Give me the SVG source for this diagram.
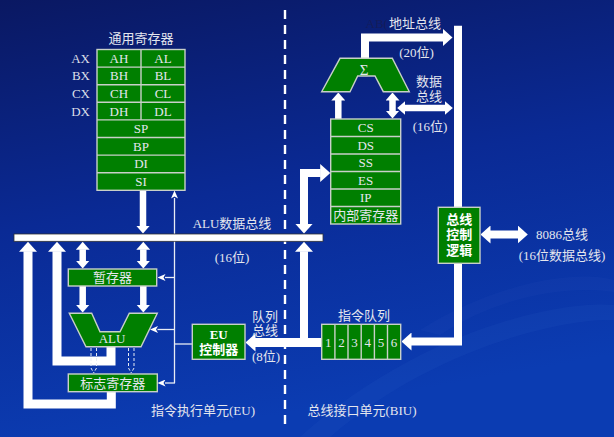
<svg xmlns="http://www.w3.org/2000/svg" width="614" height="437" viewBox="0 0 614 437">
<defs>
<linearGradient id="bg" x1="0" y1="0" x2="0.25" y2="1">
<stop offset="0" stop-color="#0a1862"/>
<stop offset="0.5" stop-color="#0a2a95"/>
<stop offset="1" stop-color="#0b3cb2"/>
</linearGradient>
<marker id="big" markerUnits="userSpaceOnUse" viewBox="0 0 10 18" markerWidth="10" markerHeight="18" refX="0.5" refY="9" orient="auto-start-reverse"><path d="M0,0 L10,9 L0,18 z" fill="#fff"/></marker>
<marker id="mid" markerUnits="userSpaceOnUse" viewBox="0 0 8 14" markerWidth="8" markerHeight="14" refX="0.5" refY="7" orient="auto-start-reverse"><path d="M0,0 L8,7 L0,14 z" fill="#fff"/></marker>
<marker id="thin" markerUnits="userSpaceOnUse" viewBox="0 0 8 7" markerWidth="8" markerHeight="7" refX="0.5" refY="3.5" orient="auto-start-reverse"><path d="M0,0 L8,3.5 L0,7 L2,3.5 z" fill="#fff"/></marker>
<style>
.g{fill:#007f00;stroke:#c8d0c8;stroke-width:1.4}
.cell{fill:none;stroke:#c8d0c8;stroke-width:1.4}
.t{font-family:"Liberation Serif","Noto Sans CJK SC",serif;font-size:13px;fill:#e4e6ee;text-anchor:middle}
.tl{font-family:"Liberation Serif","Noto Sans CJK SC",serif;font-size:13px;fill:#dcdfe8;text-anchor:end}
.b{font-family:"Liberation Serif","Noto Sans CJK SC",sans-serif;font-size:13px;fill:#ffffff;font-weight:bold;text-anchor:middle}
.w9{fill:none;stroke:#fff;stroke-width:9;stroke-linejoin:miter}
.w8{fill:none;stroke:#fff;stroke-width:8;stroke-linejoin:miter}
.w6{fill:none;stroke:#fff;stroke-width:6.5}
.th{fill:none;stroke:#e8ecf4;stroke-width:1.3}
.ds{fill:none;stroke:#e8ecf4;stroke-width:1;stroke-dasharray:3 2}
</style>
</defs>
<rect width="614" height="437" fill="url(#bg)"/>
<path d="M300,437 C420,330 560,300 614,305 L614,320 C560,318 430,350 330,437 z" fill="#3a6ad0" opacity="0.1"/>
<path d="M420,330 C500,280 580,270 614,280 L614,292 C570,285 500,295 440,335 z" fill="#3a6ad0" opacity="0.08"/>

<line x1="285" y1="10" x2="285" y2="424" stroke="#fff" stroke-width="2.4" stroke-dasharray="9 6"/>

<g id="connectors">
<path class="w9" d="M111,346 L111,361 L57,361 L57,251.3" marker-end="url(#big)"/>
<path class="w9" d="M111.3,391 L111.3,404 L28,404 L28,251.3" marker-end="url(#big)"/>
<line class="w6" x1="143" y1="190" x2="143" y2="226" marker-end="url(#mid)"/>
<line class="w6" x1="82.7" y1="249.3" x2="82.7" y2="261" marker-start="url(#mid)" marker-end="url(#mid)"/>
<line class="w6" x1="143.3" y1="249.3" x2="143.3" y2="261" marker-start="url(#mid)" marker-end="url(#mid)"/>
<line class="w6" x1="82.7" y1="286" x2="82.7" y2="305" marker-end="url(#mid)"/>
<line class="w6" x1="143.3" y1="286" x2="143.3" y2="305" marker-end="url(#mid)"/>
<path class="th" d="M174.5,383 L174.5,198" marker-end="url(#thin)"/>
<line class="th" x1="174.5" y1="277.5" x2="165" y2="277.5" marker-end="url(#thin)"/>
<line class="th" x1="174.5" y1="329.5" x2="157.5" y2="329.5" marker-end="url(#thin)"/>
<line class="th" x1="175" y1="383" x2="165" y2="383" marker-end="url(#thin)"/>
<line class="th" x1="174.5" y1="344" x2="192.3" y2="344"/>
<path class="ds" d="M91,348 L91,368 L93.7,373 M96.5,348 L96.5,368 L93.7,373"/>
<path class="ds" d="M128.5,348 L128.5,368 L131.2,373 M134,348 L134,368 L131.2,373"/>
<line class="w9" x1="321.7" y1="342.5" x2="255" y2="342.5" marker-end="url(#big)"/>
<line class="w8" x1="304" y1="346" x2="304" y2="251.3" marker-end="url(#big)"/>
<path class="w8" d="M304,224 L304,173 L320.7,173" marker-start="url(#big)" marker-end="url(#big)"/>
<path class="w8" d="M458,25.7 L458,341.5 L411,341.5" marker-end="url(#big)"/>
<path class="w8" d="M365,59 L365,37.5 L443,37.5" marker-end="url(#big)"/>
<line class="w6" x1="404.7" y1="108" x2="445.3" y2="108" marker-start="url(#mid)" marker-end="url(#mid)"/>
<line class="w6" x1="338.3" y1="119" x2="338.3" y2="100" marker-end="url(#mid)"/>
<line class="w6" x1="392.5" y1="100" x2="392.5" y2="111" marker-start="url(#mid)" marker-end="url(#mid)"/>
<line class="w8" x1="490" y1="234.5" x2="518.3" y2="234.5" marker-start="url(#big)" marker-end="url(#big)"/>
</g>

<g id="alu-bus">
<rect x="14" y="234" width="309" height="7.3" fill="#fff" stroke="#333" stroke-width="0.8"/>
<text class="t" x="232" y="228">ALU数据总线</text>
<text class="t" x="232" y="262">(16位)</text>
</g>

<g id="general-registers">
<text class="t" x="141" y="43">通用寄存器</text>
<rect class="g" x="97" y="49.5" width="88" height="140.8"/>
<path class="cell" d="M97,67.1 H185 M97,84.7 H185 M97,102.3 H185 M97,119.9 H185 M97,137.5 H185 M97,155.1 H185 M97,172.7 H185 M141,49.5 V119.9"/>
<text class="tl" x="90" y="62.8">AX</text>
<text class="tl" x="90" y="80.4">BX</text>
<text class="tl" x="90" y="98">CX</text>
<text class="tl" x="90" y="115.6">DX</text>
<text class="t" x="119" y="62.8">AH</text><text class="t" x="163" y="62.8">AL</text>
<text class="t" x="119" y="80.4">BH</text><text class="t" x="163" y="80.4">BL</text>
<text class="t" x="119" y="98">CH</text><text class="t" x="163" y="98">CL</text>
<text class="t" x="119" y="115.6">DH</text><text class="t" x="163" y="115.6">DL</text>
<text class="t" x="141" y="133.2">SP</text>
<text class="t" x="141" y="150.8">BP</text>
<text class="t" x="141" y="168.4">DI</text>
<text class="t" x="141" y="186">SI</text>
</g>

<g id="temp-register">
<rect class="g" x="68.3" y="269" width="88.4" height="17"/>
<text class="t" x="112.5" y="282">暂存器</text>
</g>

<g id="alu">
<polygon class="g" points="69.3,313.3 91.7,313.3 100,331.7 120,331.7 129.3,313.3 157.3,313.3 141,346.7 86,346.7"/>
<text class="t" x="112" y="343">ALU</text>
</g>

<g id="flag-register">
<rect class="g" x="68.3" y="374" width="89" height="17.7"/>
<text class="t" x="112.8" y="387.8">标志寄存器</text>
</g>

<g id="eu-control">
<rect class="g" x="192.3" y="324.3" width="52.7" height="35"/>
<text class="b" x="218.7" y="339">EU</text>
<text class="b" x="218.7" y="354">控制器</text>
</g>

<g id="queue-labels">
<text class="t" x="265" y="321">队列</text>
<text class="t" x="265" y="335">总线</text>
<text class="t" x="266" y="361">(8位)</text>
</g>

<g id="adder">
<polygon class="g" points="340,58.3 392.3,58.3 409.3,91.7 383.3,91.7 375,76 357.7,76 350,91.7 321.7,91.7"/>
<text class="t" x="364" y="75" style="font-size:15px">Σ</text>
</g>

<g id="bus-labels">
<text x="365.5" y="28" style="font-family:'Liberation Serif',serif;font-size:13px;fill:#141c5a">AB(</text>
<text class="t" x="415" y="28">地址总线</text>
<text class="t" x="416.5" y="57">(20位)</text>
<text class="t" x="429" y="86">数据</text>
<text class="t" x="429" y="101">总线</text>
<text class="t" x="430" y="131">(16位)</text>
</g>

<g id="internal-registers">
<rect class="g" x="330.7" y="119" width="70" height="105"/>
<path class="cell" d="M330.7,136.5 H400.7 M330.7,154 H400.7 M330.7,171.5 H400.7 M330.7,189 H400.7 M330.7,206.5 H400.7"/>
<text class="t" x="365.7" y="132.3">CS</text>
<text class="t" x="365.7" y="149.8">DS</text>
<text class="t" x="365.7" y="167.3">SS</text>
<text class="t" x="365.7" y="184.8">ES</text>
<text class="t" x="365.7" y="202.3">IP</text>
<text class="t" x="365.7" y="219.8">内部寄存器</text>
</g>

<g id="bus-control">
<rect class="g" x="438.3" y="207.3" width="41.7" height="56"/>
<text class="b" x="459.2" y="223.5">总线</text>
<text class="b" x="459.2" y="239">控制</text>
<text class="b" x="459.2" y="254.5">逻辑</text>
</g>

<g id="ext-bus">
<text class="t" x="562" y="239">8086总线</text>
<text class="t" x="562" y="260">(16位数据总线)</text>
</g>

<g id="instruction-queue">
<text class="t" x="364" y="320">指令队列</text>
<rect class="g" x="321.7" y="324.3" width="79" height="35"/>
<path class="cell" d="M334.9,324.3 V359.3 M348.0,324.3 V359.3 M361.2,324.3 V359.3 M374.4,324.3 V359.3 M387.5,324.3 V359.3"/>
<text class="t" x="328.3" y="346.5">1</text>
<text class="t" x="341.5" y="346.5">2</text>
<text class="t" x="354.6" y="346.5">3</text>
<text class="t" x="367.8" y="346.5">4</text>
<text class="t" x="381" y="346.5">5</text>
<text class="t" x="394.1" y="346.5">6</text>
</g>

<g id="unit-labels">
<text class="t" x="203" y="415">指令执行单元(EU)</text>
<text class="t" x="362" y="415">总线接口单元(BIU)</text>
</g>
</svg>
